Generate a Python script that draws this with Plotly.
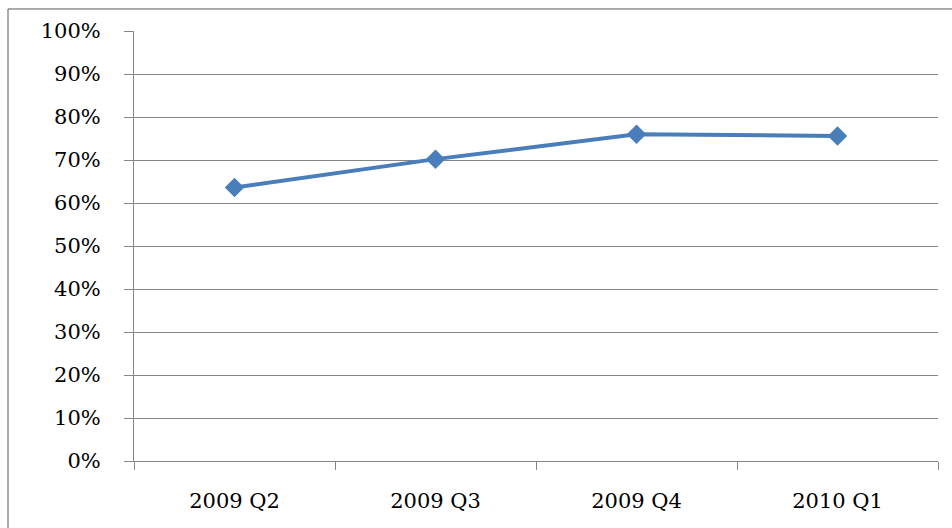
import plotly.graph_objects as go

# Quarterly share values
quarters = ["2009 Q2", "2009 Q3", "2009 Q4", "2010 Q1"]
share = [0.636, 0.702, 0.760, 0.756]
y_ticks = [i / 10 for i in range(11)]
y_tick_labels = [f"{i * 10}%" for i in range(11)]

fig = go.Figure()
fig.add_trace(go.Scatter(
    x=quarters,
    y=share,
    mode="lines+markers",
    line=dict(color="#4a7ebb", width=4),
    marker=dict(symbol="diamond", size=15, color="#4a7ebb"),
    showlegend=False,
))

font_family = "DejaVu Serif"
label_size = 21

fig.update_layout(
    width=952,
    height=528,
    margin=dict(l=134, r=14, t=31, b=67),
    paper_bgcolor="white",
    plot_bgcolor="white",
    font=dict(family=font_family, size=label_size, color="black"),
    xaxis=dict(
        type="category",
        range=[-0.5, len(quarters) - 0.5],
        tickson="boundaries",
        ticks="outside",
        ticklen=8,
        tickcolor="#868686",
        showline=True,
        linecolor="#868686",
        linewidth=1,
        showgrid=False,
        ticklabelstandoff=21,
        tickfont=dict(family=font_family, size=label_size),
        fixedrange=True,
    ),
    yaxis=dict(
        range=[0, 1],
        tickvals=y_ticks,
        ticktext=y_tick_labels,
        ticks="outside",
        ticklen=9,
        tickcolor="#868686",
        showline=True,
        linecolor="#868686",
        linewidth=1,
        showgrid=True,
        gridcolor="#868686",
        gridwidth=1,
        zeroline=False,
        ticklabelstandoff=19,
        tickfont=dict(family=font_family, size=label_size),
        fixedrange=True,
    ),
    shapes=[
        dict(
            type="rect",
            xref="paper", yref="paper",
            x0=-0.1567, x1=1.2, y0=-0.3, y1=1.0512,
            line=dict(color="#595959", width=1),
            fillcolor="rgba(0,0,0,0)",
            layer="below",
        )
    ],
)

fig.write_html("out.html")
